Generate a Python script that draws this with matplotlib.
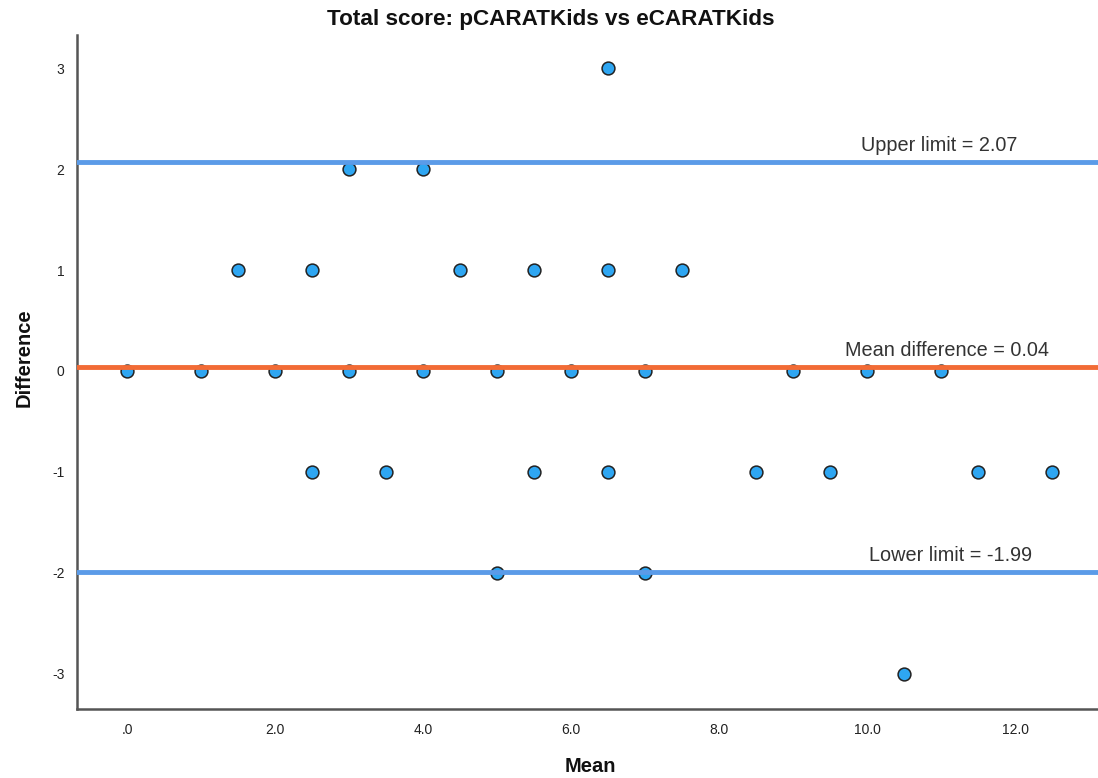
import matplotlib
matplotlib.use("Agg")
import matplotlib.pyplot as plt

plt.rcParams['font.family'] = ['Liberation Sans', 'DejaVu Sans']

# Data (mean, difference)
mean_vals = [6.5,
             3, 4,
             1.5, 2.5, 4.5, 5.5, 6.5, 7.5,
             0, 1, 2, 3, 4, 5, 6, 7, 9, 10, 11,
             2.5, 3.5, 5.5, 6.5, 8.5, 9.5, 11.5, 12.5,
             5, 7,
             10.5]
diff_vals = [3,
             2, 2,
             1, 1, 1, 1, 1, 1,
             0, 0, 0, 0, 0, 0, 0, 0, 0, 0, 0,
             -1, -1, -1, -1, -1, -1, -1, -1,
             -2, -2,
             -3]
upper_limit = 2.07
mean_diff = 0.04
lower_limit = -1.99
x_ticks = [0, 2, 4, 6, 8, 10, 12]
x_tick_labels = ['.0', '2.0', '4.0', '6.0', '8.0', '10.0', '12.0']
y_ticks = [-3, -2, -1, 0, 1, 2, 3]
y_tick_labels = ['-3', '-2', '-1', '0', '1', '2', '3']

fig = plt.figure(figsize=(10.98, 7.78), dpi=100)
ax = fig.add_axes([77/1098, 1-709/778, 1-77/1098, (709-35)/778])

ax.scatter(mean_vals, diff_vals, s=85, color='#2ea6f2', edgecolor='#222222',
           linewidth=1.1, zorder=2)

blue = '#5b9be8'
orange = '#f26b35'
ax.axhline(upper_limit, color=blue, lw=3.5, zorder=3)
ax.axhline(mean_diff, color=orange, lw=3.5, zorder=3)
ax.axhline(lower_limit, color=blue, lw=3.5, zorder=3)

lbl_kw = dict(ha='center', va='bottom', fontsize=14.3, color='#333333')
ax.text(10.98, upper_limit + 0.07, f'Upper limit = {upper_limit:.2f}', **lbl_kw)
ax.text(11.08, mean_diff + 0.07, f'Mean difference = {mean_diff:.2f}', **lbl_kw)
ax.text(11.13, lower_limit + 0.07, f'Lower limit = {lower_limit:.2f}', **lbl_kw)

ax.set_xlim(-0.676, 13.12)
ax.set_ylim(-3.347, 3.327)
ax.set_xticks(x_ticks)
ax.set_xticklabels(x_tick_labels)
ax.set_yticks(y_ticks)
ax.set_yticklabels(y_tick_labels)
ax.tick_params(length=0, labelsize=10, colors='#222222')
ax.tick_params(axis='x', pad=10)
ax.tick_params(axis='y', pad=9)

for s in ['top', 'right']:
    ax.spines[s].set_visible(False)
for s in ['left', 'bottom']:
    ax.spines[s].set_color('#555555')
    ax.spines[s].set_linewidth(1.8)

fig.text(590/1098, 1-767/778, 'Mean', ha='center', va='center',
         fontsize=14.5, fontweight='bold', color='#111111')
fig.text(24/1098, 1-358/778, 'Difference', ha='center', va='center',
         rotation=90, fontsize=14.5, fontweight='bold', color='#111111')
fig.text(551/1098, 1-20/778, 'Total score: pCARATKids vs eCARATKids', ha='center',
         va='center', fontsize=16.2, fontweight='bold', color='#111111')

fig.savefig('out.png', dpi=100)
